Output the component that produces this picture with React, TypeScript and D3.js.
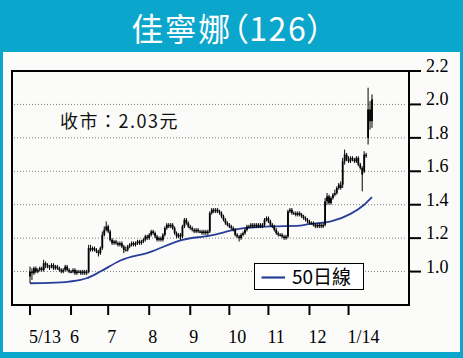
import React from "react";
import * as d3 from "d3";

const title = "佳寧娜（126）";
const closeLabel = "收市：2.03元";
const legendLabel = "50日線";

const yTicks = [2.2, 2.0, 1.8, 1.6, 1.4, 1.2, 1.0];
const gridLevels = [2.0, 1.8, 1.6, 1.4, 1.2, 1.0];
const xTickIdx = [0, 21, 40, 61, 82, 102, 122, 143, 163];
const xTickLabels = ["5/13", "6", "7", "8", "9", "10", "11", "12", "1/14"];

const opens = [
  0.97, 1.00, 0.99, 1.02, 1.00, 1.01, 1.02, 1.01, 1.05, 1.04,
  1.03, 1.03, 1.04, 1.02, 1.03, 1.02, 1.01, 1.00, 1.01, 1.03,
  1.01, 1.00, 1.00, 1.01, 0.99, 1.00, 1.00, 0.99, 1.00, 0.99,
  1.00, 1.14, 1.13, 1.14, 1.13, 1.12, 1.11, 1.14, 1.22, 1.25,
  1.27, 1.24, 1.19, 1.17, 1.18, 1.17, 1.16, 1.17, 1.15, 1.13,
  1.13, 1.15, 1.16, 1.17, 1.16, 1.17, 1.18, 1.17, 1.18, 1.19,
  1.21, 1.20, 1.22, 1.24, 1.23, 1.21, 1.19, 1.20, 1.19, 1.22,
  1.26, 1.28, 1.27, 1.28, 1.26, 1.23, 1.21, 1.22, 1.21, 1.27,
  1.31, 1.29, 1.27, 1.26, 1.25, 1.24, 1.25, 1.24, 1.24, 1.23,
  1.24, 1.23, 1.24, 1.35, 1.37, 1.36, 1.37, 1.36, 1.35, 1.33,
  1.31, 1.29, 1.28, 1.27, 1.26, 1.25, 1.22, 1.21, 1.20, 1.22,
  1.23, 1.25, 1.27, 1.27, 1.28, 1.27, 1.28, 1.27, 1.28, 1.27,
  1.28, 1.31, 1.32, 1.30, 1.28, 1.27, 1.25, 1.23, 1.22, 1.22,
  1.21, 1.20, 1.21, 1.36, 1.37, 1.35, 1.35, 1.34, 1.35, 1.34,
  1.33, 1.32, 1.31, 1.30, 1.29, 1.29, 1.28, 1.27, 1.28, 1.27,
  1.28, 1.28, 1.42, 1.45, 1.41, 1.44, 1.46, 1.47, 1.50, 1.52,
  1.52, 1.66, 1.70, 1.67, 1.66, 1.68, 1.67, 1.66, 1.68, 1.64,
  1.62, 1.60, 1.70, 1.80, 1.97, 1.90,
];

const closes = [
  1.00, 0.99, 1.02, 1.00, 1.01, 1.02, 1.01, 1.05, 1.04, 1.03,
  1.03, 1.04, 1.02, 1.03, 1.02, 1.01, 1.00, 1.01, 1.03, 1.01,
  1.00, 1.00, 1.01, 0.99, 1.00, 1.00, 0.99, 1.00, 0.99, 1.00,
  1.14, 1.13, 1.14, 1.13, 1.12, 1.11, 1.14, 1.22, 1.25, 1.27,
  1.24, 1.19, 1.17, 1.18, 1.17, 1.16, 1.17, 1.15, 1.13, 1.13,
  1.15, 1.16, 1.17, 1.16, 1.17, 1.18, 1.17, 1.18, 1.19, 1.21,
  1.20, 1.22, 1.24, 1.23, 1.21, 1.19, 1.20, 1.19, 1.22, 1.26,
  1.28, 1.27, 1.28, 1.26, 1.23, 1.21, 1.22, 1.21, 1.27, 1.31,
  1.29, 1.27, 1.26, 1.25, 1.24, 1.25, 1.24, 1.24, 1.23, 1.24,
  1.23, 1.24, 1.35, 1.37, 1.36, 1.37, 1.36, 1.35, 1.33, 1.31,
  1.29, 1.28, 1.27, 1.26, 1.25, 1.22, 1.21, 1.20, 1.22, 1.23,
  1.25, 1.27, 1.27, 1.28, 1.27, 1.28, 1.27, 1.28, 1.27, 1.28,
  1.31, 1.32, 1.30, 1.28, 1.27, 1.25, 1.23, 1.22, 1.22, 1.21,
  1.20, 1.21, 1.36, 1.37, 1.35, 1.35, 1.34, 1.35, 1.34, 1.33,
  1.32, 1.31, 1.30, 1.29, 1.29, 1.28, 1.27, 1.28, 1.27, 1.28,
  1.27, 1.42, 1.45, 1.41, 1.44, 1.46, 1.47, 1.50, 1.52, 1.50,
  1.66, 1.70, 1.67, 1.66, 1.68, 1.67, 1.66, 1.68, 1.64, 1.62,
  1.58, 1.70, 1.69, 1.97, 1.90, 2.03,
];

const highs = [
  1.03, 1.02, 1.03, 1.03, 1.02, 1.03, 1.03, 1.07, 1.06, 1.05,
  1.04, 1.05, 1.05, 1.04, 1.04, 1.03, 1.02, 1.02, 1.04, 1.04,
  1.02, 1.01, 1.02, 1.02, 1.01, 1.01, 1.01, 1.01, 1.01, 1.01,
  1.16, 1.16, 1.15, 1.15, 1.14, 1.13, 1.15, 1.24, 1.27, 1.30,
  1.28, 1.25, 1.20, 1.19, 1.19, 1.18, 1.18, 1.18, 1.16, 1.15,
  1.16, 1.17, 1.18, 1.18, 1.18, 1.19, 1.19, 1.19, 1.20, 1.22,
  1.22, 1.23, 1.25, 1.25, 1.24, 1.22, 1.21, 1.21, 1.23, 1.27,
  1.29, 1.29, 1.29, 1.29, 1.27, 1.24, 1.23, 1.23, 1.28, 1.32,
  1.32, 1.30, 1.28, 1.27, 1.26, 1.26, 1.26, 1.25, 1.25, 1.25,
  1.25, 1.25, 1.36, 1.38, 1.38, 1.38, 1.38, 1.37, 1.36, 1.34,
  1.32, 1.30, 1.29, 1.28, 1.27, 1.26, 1.23, 1.22, 1.23, 1.24,
  1.26, 1.28, 1.28, 1.29, 1.29, 1.29, 1.29, 1.29, 1.29, 1.29,
  1.32, 1.33, 1.33, 1.31, 1.29, 1.28, 1.26, 1.24, 1.23, 1.23,
  1.22, 1.22, 1.37, 1.38, 1.38, 1.36, 1.36, 1.36, 1.36, 1.35,
  1.34, 1.33, 1.32, 1.31, 1.30, 1.30, 1.29, 1.29, 1.29, 1.29,
  1.29, 1.44, 1.47, 1.46, 1.45, 1.47, 1.49, 1.51, 1.53, 1.54,
  1.68, 1.73, 1.71, 1.69, 1.69, 1.69, 1.68, 1.69, 1.69, 1.65,
  1.63, 1.72, 1.71, 2.10, 2.02, 2.06,
];

const lows = [
  0.93, 0.95, 0.98, 0.99, 0.99, 1.00, 1.00, 1.00, 1.02, 1.02,
  1.01, 1.02, 1.01, 1.01, 1.01, 1.00, 0.99, 0.99, 1.00, 1.00,
  0.99, 0.99, 0.99, 0.98, 0.98, 0.99, 0.98, 0.98, 0.98, 0.98,
  0.99, 1.12, 1.12, 1.12, 1.11, 1.09, 1.10, 1.13, 1.21, 1.24,
  1.23, 1.18, 1.16, 1.16, 1.16, 1.15, 1.15, 1.14, 1.11, 1.12,
  1.12, 1.14, 1.15, 1.15, 1.15, 1.16, 1.16, 1.16, 1.17, 1.18,
  1.19, 1.19, 1.21, 1.22, 1.20, 1.18, 1.18, 1.18, 1.18, 1.21,
  1.25, 1.26, 1.26, 1.25, 1.22, 1.20, 1.20, 1.19, 1.20, 1.26,
  1.28, 1.26, 1.25, 1.24, 1.23, 1.23, 1.23, 1.23, 1.22, 1.22,
  1.22, 1.22, 1.23, 1.34, 1.35, 1.35, 1.35, 1.34, 1.32, 1.30,
  1.28, 1.27, 1.26, 1.25, 1.24, 1.21, 1.20, 1.18, 1.19, 1.21,
  1.22, 1.24, 1.26, 1.26, 1.26, 1.26, 1.26, 1.26, 1.26, 1.26,
  1.27, 1.30, 1.29, 1.27, 1.26, 1.24, 1.22, 1.21, 1.21, 1.20,
  1.19, 1.19, 1.20, 1.35, 1.34, 1.34, 1.33, 1.33, 1.33, 1.32,
  1.31, 1.30, 1.29, 1.28, 1.28, 1.27, 1.26, 1.26, 1.26, 1.26,
  1.26, 1.27, 1.40, 1.40, 1.40, 1.43, 1.45, 1.46, 1.49, 1.49,
  1.50, 1.64, 1.66, 1.65, 1.65, 1.66, 1.65, 1.65, 1.63, 1.61,
  1.48, 1.59, 1.68, 1.76, 1.85, 1.86,
];

const maIdx = [0, 10, 20, 29, 36, 46, 61, 78, 92, 107, 123, 138, 143, 154, 164, 171, 175];
const maVal = [0.93, 0.932, 0.94, 0.96, 1.0, 1.065, 1.115, 1.19, 1.215, 1.255, 1.27, 1.275, 1.285, 1.3, 1.345, 1.4, 1.445];

const BLUE = "#0aa6cc";
const MA_COLOR = "#283f98";
const SERIF = "'Liberation Serif', 'Times New Roman', serif";
const CJK = "'Noto Sans CJK TC', 'Noto Sans', sans-serif";

export default function App() {
  const W = 463;
  const H = 358;
  const left = 12, right = 409, top = 71, bottom = 305;
  const n = closes.length;
  const x = d3.scaleLinear().domain([0, n - 1]).range([30, 372]);
  const y = d3.scaleLinear().domain([0.8, 2.2]).range([bottom, top]);

  const maLine = d3
    .line<number>()
    .x((_, i) => x(maIdx[i]))
    .y((d) => y(d))
    .curve(d3.curveMonotoneX)(maVal) || "";

  return (
    <svg
      width={W}
      height={H}
      style={{ position: "absolute", left: 0, top: 0, display: "block" }}
    >
      <rect x={0} y={0} width={W} height={H} fill={BLUE} />
      <rect x={3} y={52} width={457} height={300} fill="#fbfcfa" />
      <text
        x={228}
        y={41}
        textAnchor="middle"
        fill="#ffffff"
        fontFamily={CJK}
        fontSize={32}
        letterSpacing={1.5}
        style={{ fontFeatureSettings: '"palt"' }}
      >
        {title}
      </text>

      {/* grid */}
      {gridLevels.map((v) => (
        <line
          key={"g" + v}
          x1={left + 2}
          x2={right - 2}
          y1={y(v)}
          y2={y(v)}
          stroke="#808080"
          strokeWidth={1}
          strokeDasharray="1,2"
        />
      ))}

      {/* MA line */}
      <path d={maLine} fill="none" stroke={MA_COLOR} strokeWidth={1.8} />

      {/* candles */}
      {closes.map((c, i) => {
        const o = opens[i];
        const cx = x(i);
        const yt = y(Math.max(o, c));
        const yb = y(Math.min(o, c));
        return (
          <g key={"c" + i}>
            <line x1={cx} x2={cx} y1={y(highs[i])} y2={y(lows[i])} stroke="#000" strokeWidth={1} />
            <rect x={cx - 0.9} y={yt} width={1.8} height={Math.max(1.2, yb - yt)} fill="#000" />
          </g>
        );
      })}

      {/* frame */}
      <rect x={left} y={top} width={right - left} height={bottom - top} fill="none" stroke="#000" strokeWidth={2} />

      {/* y ticks */}
      {yTicks.map((v) => (
        <g key={"y" + v}>
          <line x1={right} x2={421} y1={y(v)} y2={y(v)} stroke="#000" strokeWidth={2} />
          <text x={426} y={y(v) + 1} fontFamily={SERIF} fontSize={18} fill="#000">
            {v.toFixed(1)}
          </text>
        </g>
      ))}

      {/* x ticks */}
      {xTickIdx.map((t, i) => (
        <g key={"x" + t}>
          <line x1={x(t)} x2={x(t)} y1={bottom + 1} y2={315} stroke="#000" strokeWidth={2} />
          <text x={x(t) - 1} y={343} fontFamily={SERIF} fontSize={18} fill="#000">
            {xTickLabels[i]}
          </text>
        </g>
      ))}

      {/* close label */}
      <text x={60} y={128} fontFamily={CJK} fontSize={18} letterSpacing={1.5} fill="#111">
        {closeLabel}
      </text>

      {/* legend */}
      <rect x={254.5} y={263.5} width={109} height={26} fill="#ffffff" stroke="#000" strokeWidth={1} />
      <line x1={261.5} x2={285} y1={277.5} y2={277.5} stroke={MA_COLOR} strokeWidth={2.2} />
      <text x={292} y={283.5} fontFamily={CJK} fontSize={19} fill="#000">
        {legendLabel}
      </text>
    </svg>
  );
}
